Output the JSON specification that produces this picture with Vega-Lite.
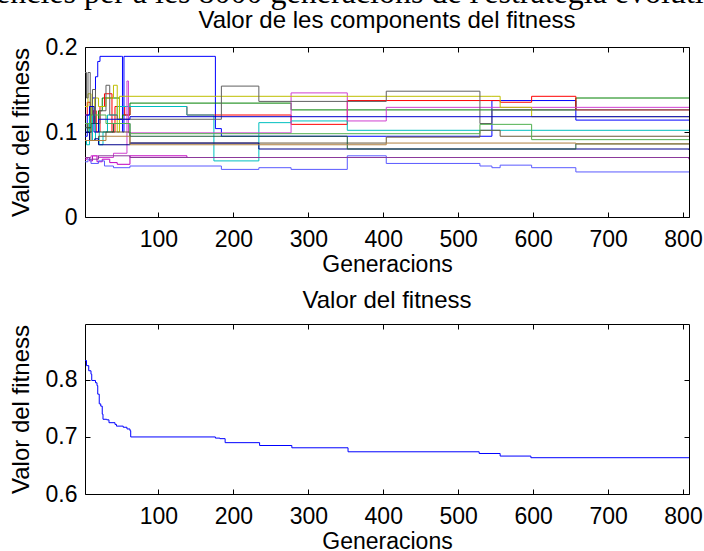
{
 "$schema": "https://vega.github.io/schema/vega-lite/v6.json",
 "autosize": {"type": "none"},
 "padding": {"left": 85, "top": 47, "right": 619, "bottom": 504},
 "background": "white",
 "bounds": "flush",
 "spacing": 107,
 "title": {"text": "ències per a les 8000 generacions de l'estratègia evolutiva", "font": "Liberation Serif", "fontSize": 32, "fontWeight": "normal", "anchor": "start", "frame": "group", "dx": -89, "dy": 26, "baseline": "alphabetic", "offset": 0, "color": "black"},
 "config": {
  "view": {"stroke": "black", "strokeWidth": 1},
  "axis": {"grid": false, "domain": false, "ticks": true, "tickColor": "black", "tickWidth": 1, "tickSize": -5, "labelFont": "Liberation Sans", "labelFontSize": 23, "labelColor": "black", "labelFlush": false, "labelOverlap": false, "titleFont": "Liberation Sans", "titleFontSize": 23, "titleFontWeight": "normal", "titleColor": "black"},
  "title": {"font": "Liberation Sans", "fontSize": 24, "fontWeight": "normal", "color": "black"}
 },
 "datasets": {
  "comp": [
   {"s":"a","g":2,"v":0.095},{"s":"a","g":5,"v":0.12},{"s":"a","g":8,"v":0.10},{"s":"a","g":12,"v":0.14},{"s":"a","g":16,"v":0.165},{"s":"a","g":19,"v":0.183},{"s":"a","g":22,"v":0.189},{"s":"a","g":51,"v":0.189},{"s":"a","g":52,"v":0.10},{"s":"a","g":54,"v":0.189},{"s":"a","g":174,"v":0.189},{"s":"a","g":176,"v":0.104},{"s":"a","g":184,"v":0.095},{"s":"a","g":404,"v":0.095},{"s":"a","g":545,"v":0.137},{"s":"a","g":657,"v":0.114},{"s":"a","g":808,"v":0.114},
   {"s":"b","g":2,"v":0.11},{"s":"b","g":6,"v":0.10},{"s":"b","g":10,"v":0.13},{"s":"b","g":15,"v":0.11},{"s":"b","g":20,"v":0.125},{"s":"b","g":25,"v":0.14},{"s":"b","g":40,"v":0.14},{"s":"b","g":48,"v":0.115},{"s":"b","g":52,"v":0.12},{"s":"b","g":62,"v":0.134},{"s":"b","g":277,"v":0.126},{"s":"b","g":657,"v":0.140},{"s":"b","g":808,"v":0.140},
   {"s":"c","g":2,"v":0.12},{"s":"c","g":5,"v":0.135},{"s":"c","g":9,"v":0.11},{"s":"c","g":13,"v":0.125},{"s":"c","g":17,"v":0.10},{"s":"c","g":22,"v":0.13},{"s":"c","g":28,"v":0.145},{"s":"c","g":38,"v":0.10},{"s":"c","g":42,"v":0.13},{"s":"c","g":55,"v":0.12},{"s":"c","g":62,"v":0.130},{"s":"c","g":138,"v":0.120},{"s":"c","g":184,"v":0.120},{"s":"c","g":277,"v":0.109},{"s":"c","g":352,"v":0.137},{"s":"c","g":556,"v":0.135},{"s":"c","g":598,"v":0.142},{"s":"c","g":657,"v":0.126},{"s":"c","g":808,"v":0.126},
   {"s":"d","g":2,"v":0.09},{"s":"d","g":4,"v":0.085},{"s":"d","g":8,"v":0.13},{"s":"d","g":12,"v":0.09},{"s":"d","g":16,"v":0.11},{"s":"d","g":21,"v":0.085},{"s":"d","g":26,"v":0.10},{"s":"d","g":32,"v":0.12},{"s":"d","g":45,"v":0.13},{"s":"d","g":62,"v":0.130},{"s":"d","g":138,"v":0.120},{"s":"d","g":174,"v":0.066},{"s":"d","g":234,"v":0.111},{"s":"d","g":277,"v":0.113},{"s":"d","g":352,"v":0.102},{"s":"d","g":808,"v":0.102},
   {"s":"e","g":2,"v":0.068},{"s":"e","g":5,"v":0.07},{"s":"e","g":8,"v":0.066},{"s":"e","g":12,"v":0.072},{"s":"e","g":18,"v":0.065},{"s":"e","g":25,"v":0.068},{"s":"e","g":35,"v":0.064},{"s":"e","g":45,"v":0.062},{"s":"e","g":62,"v":0.072},{"s":"e","g":138,"v":0.070},{"s":"e","g":808,"v":0.068},
   {"s":"f","g":2,"v":0.07},{"s":"f","g":10,"v":0.072},{"s":"f","g":20,"v":0.07},{"s":"f","g":40,"v":0.075},{"s":"f","g":58,"v":0.16},{"s":"f","g":60,"v":0.099},{"s":"f","g":277,"v":0.146},{"s":"f","g":352,"v":0.113},{"s":"f","g":404,"v":0.129},{"s":"f","g":598,"v":0.129},{"s":"f","g":808,"v":0.129},
   {"s":"g","g":2,"v":0.13},{"s":"g","g":6,"v":0.145},{"s":"g","g":10,"v":0.12},{"s":"g","g":15,"v":0.14},{"s":"g","g":20,"v":0.13},{"s":"g","g":30,"v":0.14},{"s":"g","g":40,"v":0.155},{"s":"g","g":45,"v":0.10},{"s":"g","g":48,"v":0.142},{"s":"g","g":545,"v":0.142},{"s":"g","g":556,"v":0.129},{"s":"g","g":598,"v":0.118},{"s":"g","g":808,"v":0.118},
   {"s":"h","g":2,"v":0.17},{"s":"h","g":4,"v":0.14},{"s":"h","g":6,"v":0.17},{"s":"h","g":9,"v":0.12},{"s":"h","g":12,"v":0.15},{"s":"h","g":16,"v":0.11},{"s":"h","g":22,"v":0.125},{"s":"h","g":30,"v":0.155},{"s":"h","g":35,"v":0.12},{"s":"h","g":45,"v":0.115},{"s":"h","g":62,"v":0.115},{"s":"h","g":184,"v":0.154},{"s":"h","g":234,"v":0.136},{"s":"h","g":404,"v":0.148},{"s":"h","g":529,"v":0.110},{"s":"h","g":545,"v":0.126},{"s":"h","g":808,"v":0.126},
   {"s":"i","g":2,"v":0.065},{"s":"i","g":6,"v":0.068},{"s":"i","g":10,"v":0.063},{"s":"i","g":20,"v":0.066},{"s":"i","g":28,"v":0.06},{"s":"i","g":40,"v":0.058},{"s":"i","g":62,"v":0.060},{"s":"i","g":184,"v":0.056},{"s":"i","g":234,"v":0.058},{"s":"i","g":277,"v":0.056},{"s":"i","g":352,"v":0.072},{"s":"i","g":404,"v":0.063},{"s":"i","g":529,"v":0.060},{"s":"i","g":545,"v":0.058},{"s":"i","g":556,"v":0.061},{"s":"i","g":598,"v":0.058},{"s":"i","g":657,"v":0.053},{"s":"i","g":808,"v":0.053},
   {"s":"j","g":2,"v":0.11},{"s":"j","g":5,"v":0.105},{"s":"j","g":10,"v":0.09},{"s":"j","g":20,"v":0.095},{"s":"j","g":30,"v":0.10},{"s":"j","g":62,"v":0.087},{"s":"j","g":404,"v":0.094},{"s":"j","g":529,"v":0.102},{"s":"j","g":556,"v":0.095},{"s":"j","g":808,"v":0.095},
   {"s":"k","g":2,"v":0.10},{"s":"k","g":8,"v":0.09},{"s":"k","g":15,"v":0.092},{"s":"k","g":20,"v":0.085},{"s":"k","g":62,"v":0.087},{"s":"k","g":234,"v":0.080},{"s":"k","g":808,"v":0.079},
   {"s":"l","g":2,"v":0.105},{"s":"l","g":10,"v":0.11},{"s":"l","g":20,"v":0.10},{"s":"l","g":40,"v":0.11},{"s":"l","g":62,"v":0.095},{"s":"l","g":352,"v":0.080},{"s":"l","g":657,"v":0.086},{"s":"l","g":808,"v":0.086},
   {"s":"m","g":2,"v":0.11},{"s":"m","g":10,"v":0.12},{"s":"m","g":30,"v":0.11},{"s":"m","g":62,"v":0.098},{"s":"m","g":529,"v":0.109},{"s":"m","g":598,"v":0.091},{"s":"m","g":808,"v":0.091},
   {"s":"n","g":2,"v":0.07},{"s":"n","g":8,"v":0.068},{"s":"n","g":20,"v":0.072},{"s":"n","g":62,"v":0.070},{"s":"n","g":808,"v":0.069},
   {"s":"o","g":2,"v":0.09},{"s":"o","g":30,"v":0.095},{"s":"o","g":62,"v":0.085},{"s":"o","g":404,"v":0.087},{"s":"o","g":657,"v":0.086},{"s":"o","g":808,"v":0.086},
   {"s":"p","g":2,"v":0.12},{"s":"p","g":8,"v":0.13},{"s":"p","g":14,"v":0.10},{"s":"p","g":20,"v":0.115},{"s":"p","g":62,"v":0.118},{"s":"p","g":808,"v":0.118}
  ],
  "fit": [
   {"g":2,"v":0.834},{"g":4,"v":0.825},{"g":7,"v":0.816},{"g":10,"v":0.81},{"g":11,"v":0.799},{"g":16,"v":0.795},{"g":18,"v":0.79},{"g":19,"v":0.775},{"g":21,"v":0.758},{"g":23,"v":0.754},{"g":25,"v":0.74},{"g":26,"v":0.731},{"g":31,"v":0.73},{"g":34,"v":0.725},{"g":42,"v":0.722},{"g":44,"v":0.719},{"g":53,"v":0.717},{"g":58,"v":0.714},{"g":62,"v":0.711},{"g":63,"v":0.700},{"g":176,"v":0.698},{"g":182,"v":0.697},{"g":189,"v":0.690},{"g":235,"v":0.685},{"g":278,"v":0.681},{"g":353,"v":0.674},{"g":528,"v":0.671},{"g":556,"v":0.6665},{"g":597,"v":0.6636},{"g":808,"v":0.6636}
  ]
 },
 "vconcat": [
  {
   "width": 604, "height": 170,
   "title": {"text": "Valor de les components del fitness", "baseline": "alphabetic", "offset": -16},
   "data": {"name": "comp"},
   "layer": [
    {
     "mark": {"type": "line", "interpolate": "step-after", "strokeWidth": 1, "clip": true},
     "encoding": {
      "x": {"field": "g", "type": "quantitative", "scale": {"domain": [2, 808], "nice": false, "zero": false}, "axis": {"values": [100,200,300,400,500,600,700,800], "title": "Generacions", "labelPadding": 16, "titlePadding": 2}},
      "y": {"field": "v", "type": "quantitative", "scale": {"domain": [0, 0.2], "nice": false}, "axis": {"values": [0, 0.1, 0.2], "format": "~g", "title": "Valor del fitness", "labelPadding": 13, "titlePadding": 12, "titleFontSize": 24}},
      "color": {"field": "s", "type": "nominal", "legend": null, "scale": {"domain": ["a","b","c","d","e","f","g","h","i","j","k","l","m","n","o","p"], "range": ["#0000FF","#008000","#FF0000","#00BFBF","#BF00BF","#D040D0","#BFBF00","#606060","#5A5AFF","#6B5A3A","#00008B","#1E5A3C","#50B050","#8B3A9B","#B08040","#0000CD"]}}
     }
    },
    {
     "mark": {"type": "line", "opacity": 0},
     "encoding": {
      "x": {"field": "g", "type": "quantitative", "axis": {"orient": "top", "values": [100,200,300,400,500,600,700,800], "labels": false, "title": null}},
      "y": {"field": "v", "type": "quantitative", "axis": {"orient": "right", "values": [0, 0.1, 0.2], "labels": false, "title": null}},
      "detail": {"field": "s"}
     }
    }
   ],
   "resolve": {"axis": {"x": "independent", "y": "independent"}}
  },
  {
   "width": 604, "height": 170,
   "title": {"text": "Valor del fitness", "baseline": "alphabetic", "offset": -8},
   "data": {"name": "fit"},
   "layer": [
    {
     "mark": {"type": "line", "interpolate": "step-after", "strokeWidth": 1, "color": "#0000FF", "clip": true},
     "encoding": {
      "x": {"field": "g", "type": "quantitative", "scale": {"domain": [2, 808], "nice": false, "zero": false}, "axis": {"values": [100,200,300,400,500,600,700,800], "title": "Generacions", "labelPadding": 16, "titlePadding": 2}},
      "y": {"field": "v", "type": "quantitative", "scale": {"domain": [0.6, 0.898], "nice": false, "zero": false}, "axis": {"values": [0.6, 0.7, 0.8], "format": "~g", "title": "Valor del fitness", "labelPadding": 13, "titlePadding": 12, "titleFontSize": 24}}
     }
    },
    {
     "mark": {"type": "line", "opacity": 0},
     "encoding": {
      "x": {"field": "g", "type": "quantitative", "axis": {"orient": "top", "values": [100,200,300,400,500,600,700,800], "labels": false, "title": null}},
      "y": {"field": "v", "type": "quantitative", "axis": {"orient": "right", "values": [0.6, 0.7, 0.8], "labels": false, "title": null}}
     }
    }
   ],
   "resolve": {"axis": {"x": "independent", "y": "independent"}}
  }
 ]
}
